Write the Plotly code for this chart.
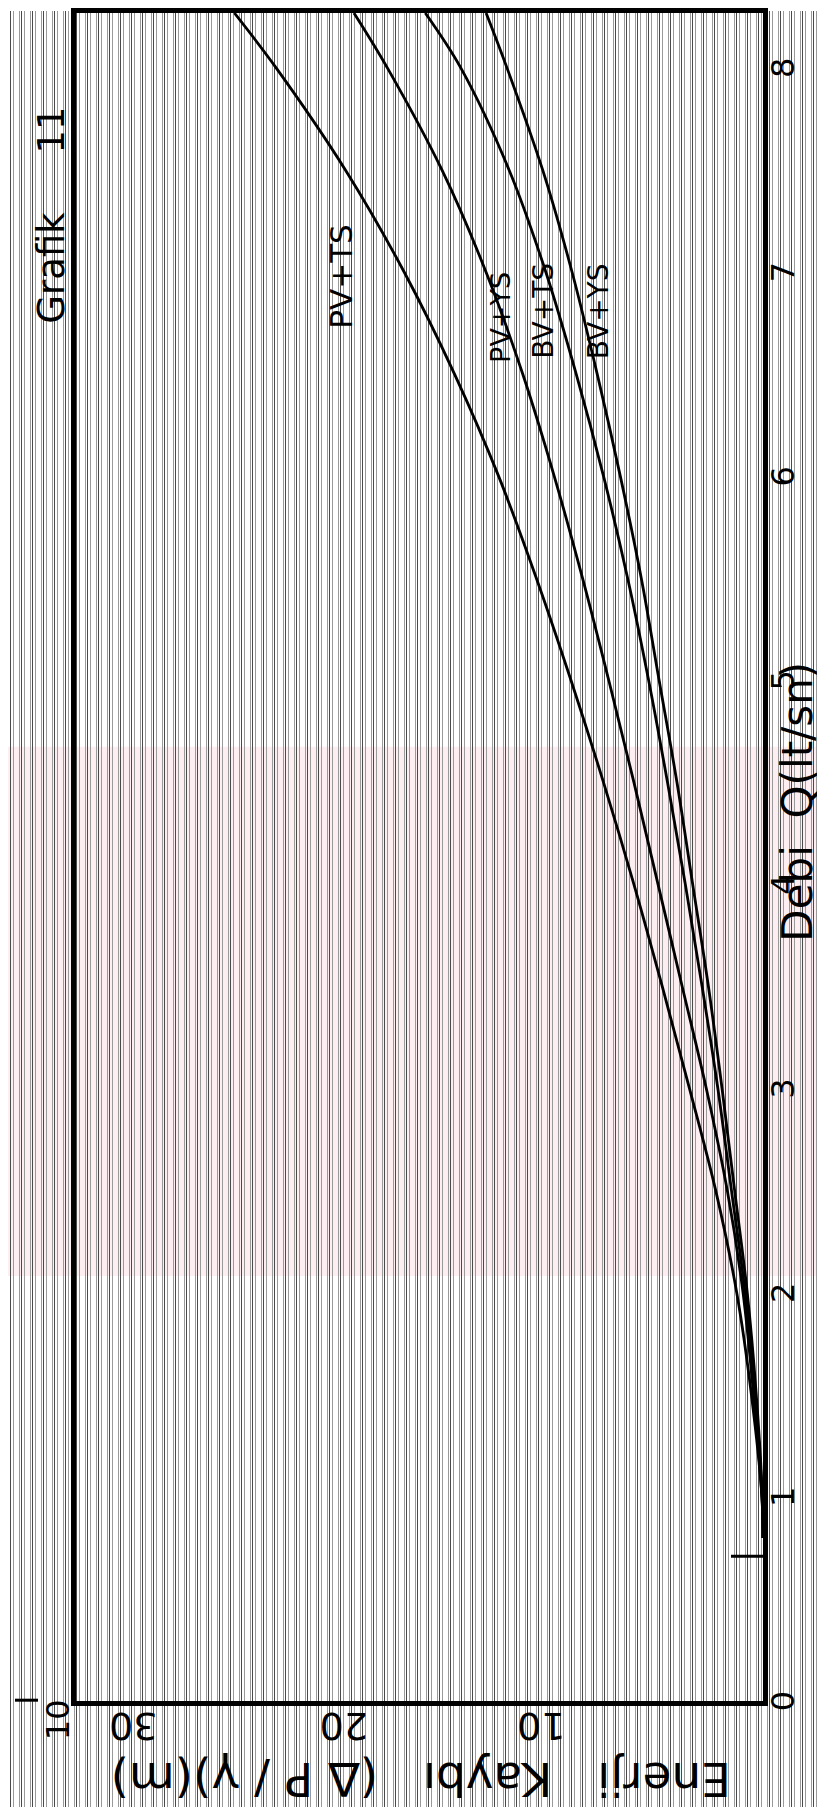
import plotly.graph_objects as go

# ---- data ----
Q = [0.8, 1.0, 1.5, 2.0, 2.5, 3.0, 3.5, 4.0, 4.5, 5.0, 5.5, 6.0, 6.5, 7.0, 7.5, 8.0, 8.27]
PV_TS = [0, 0.05, 0.55, 1.25, 2.25, 3.5, 4.8, 6.15, 7.6, 9.15, 10.8, 12.6, 14.7, 17.1, 19.9, 23.2, 25.2]
PV_YS = [0, 0.05, 0.45, 0.95, 1.7, 2.7, 3.85, 5.0, 6.15, 7.35, 8.6, 9.95, 11.45, 13.2, 15.3, 17.9, 19.5]
BV_TS = [0, 0.04, 0.38, 0.85, 1.5, 2.15, 2.9, 3.7, 4.55, 5.45, 6.45, 7.6, 8.9, 10.35, 12.1, 14.4, 16.1]
BV_YS = [0, 0.03, 0.32, 0.75, 1.35, 1.95, 2.6, 3.35, 4.1, 4.95, 5.8, 6.8, 7.9, 9.1, 10.5, 12.2, 13.2]

series_names = ["PV+TS", "PV+YS", "BV+TS", "BV+YS"]
series_vals = [PV_TS, PV_YS, BV_TS, BV_YS]
label_pos_E = [20.1, 12.55, 10.5, 7.85]
label_pos_Q = [6.98, 6.78, 6.81, 6.81]
label_size = [31, 27, 28, 28]

q_ticks = [0, 1, 2, 3, 4, 5, 6, 7, 8]
e_ticks = [10, 20, 30]

W, H = 825, 1807
FONT = "DejaVu Sans"

fig = go.Figure()

# background hatching subplot (full page)
fig.add_trace(go.Scatter(x=[0, W], y=[0, 1], mode="markers",
                         marker=dict(opacity=0), hoverinfo="skip",
                         showlegend=False, xaxis="x", yaxis="y"))

for name, vals in zip(series_names, series_vals):
    fig.add_trace(go.Scatter(x=vals, y=Q, mode="lines", name=name,
                             line=dict(color="black", width=2.8, shape="spline", smoothing=1.0),
                             showlegend=False, xaxis="x2", yaxis="y2"))

FX0, FX1, FYB, FYT = 68, 755, 1693, 2
x0, x1 = FX0 / W, FX1 / W
y0, y1 = (H - FYB) / H, (H - FYT) / H

fig.update_layout(
    width=W, height=H, autosize=False,
    margin=dict(l=0, r=0, t=0, b=0),
    paper_bgcolor="white", plot_bgcolor="rgba(0,0,0,0)",
    font=dict(family=FONT, color="black"),
    xaxis=dict(domain=[0, 1], range=[0, W], showgrid=True, gridcolor="#4a4a4a",
               gridwidth=1, dtick=11, tick0=2,
               minor=dict(showgrid=True, dtick=5.5, gridcolor="#9a9a9a", gridwidth=1),
               showticklabels=False, zeroline=False, ticks="", fixedrange=True),
    yaxis=dict(domain=[0, 1], range=[0, 1], showgrid=False, showticklabels=False,
               zeroline=False, ticks=""),
    xaxis2=dict(domain=[x0, x1], range=[32.75, 0], anchor="y2",
                showgrid=False, zeroline=False, showline=True, mirror=True,
                linecolor="black", linewidth=5, showticklabels=False, ticks=""),
    yaxis2=dict(domain=[y0, y1], range=[0, 8.27], anchor="x2", side="right",
                showgrid=False, zeroline=False, showline=True, mirror=True,
                linecolor="black", linewidth=5, showticklabels=False, ticks=""),
)

annots = []
# energy tick labels (upside down)
for v in e_ticks:
    annots.append(dict(x=v, y=(H - 1718) / H, xref="x2", yref="paper", text=str(v),
                       showarrow=False, textangle=180, xanchor="center", yanchor="middle",
                       xshift=-12 if v == 10 else 0,
                       font=dict(size=38, family=FONT)))
# Q tick labels (rotated)
for v in q_ticks:
    annots.append(dict(x=775 / W, y=v, xref="paper", yref="y2", text=str(v),
                       showarrow=False, textangle=-90, xanchor="center", yanchor="middle",
                       font=dict(size=32, family=FONT)))
for name, e, q, s in zip(series_names, label_pos_E, label_pos_Q, label_size):
    annots.append(dict(x=e, y=q, xref="x2", yref="y2", text=name, showarrow=False,
                       textangle=-90, xanchor="center", yanchor="middle",
                       font=dict(size=s, family=FONT)))
annots.append(dict(x=44 / W, y=(H - 205) / H, xref="paper", yref="paper",
                   text="Grafik&nbsp;&nbsp;&nbsp;&nbsp;&nbsp;11", showarrow=False, textangle=-90,
                   xanchor="center", yanchor="middle", font=dict(size=37, family=FONT)))
annots.append(dict(x=790 / W, y=(H - 792) / H, xref="paper", yref="paper",
                   text="Debi&nbsp;&nbsp;Q(lt/sn)", showarrow=False, textangle=-90,
                   xanchor="center", yanchor="middle", font=dict(size=42, family=FONT)))
annots.append(dict(x=413 / W, y=(H - 1772) / H, xref="paper", yref="paper",
                   text="Enerji&nbsp;&nbsp;&nbsp;Kaybı&nbsp;&nbsp;&nbsp;(∆ P / γ)(m)", showarrow=False,
                   textangle=180, xanchor="center", yanchor="middle",
                   font=dict(size=47, family=FONT)))
annots.append(dict(x=50 / W, y=(H - 1712) / H, xref="paper", yref="paper",
                   text="10", showarrow=False, textangle=-90,
                   xanchor="center", yanchor="middle", font=dict(size=32, family=FONT)))
fig.update_layout(annotations=annots)

# faint pink watermark band
fig.add_shape(type="rect", xref="paper", yref="paper", layer="below",
              x0=0, x1=1, y0=(H - 1267) / H, y1=(H - 737) / H,
              fillcolor="rgba(250,205,215,0.35)", line=dict(width=0))
fig.add_shape(type="line", xref="paper", yref="paper",
              x0=7 / W, x1=30 / W, y0=(H - 1692) / H, y1=(H - 1692) / H,
              line=dict(color="black", width=3))
fig.add_shape(type="line", xref="paper", yref="y2",
              x0=723 / W, x1=758 / W, y0=0.71, y1=0.71,
              line=dict(color="black", width=3))

fig.write_html("out.html")
